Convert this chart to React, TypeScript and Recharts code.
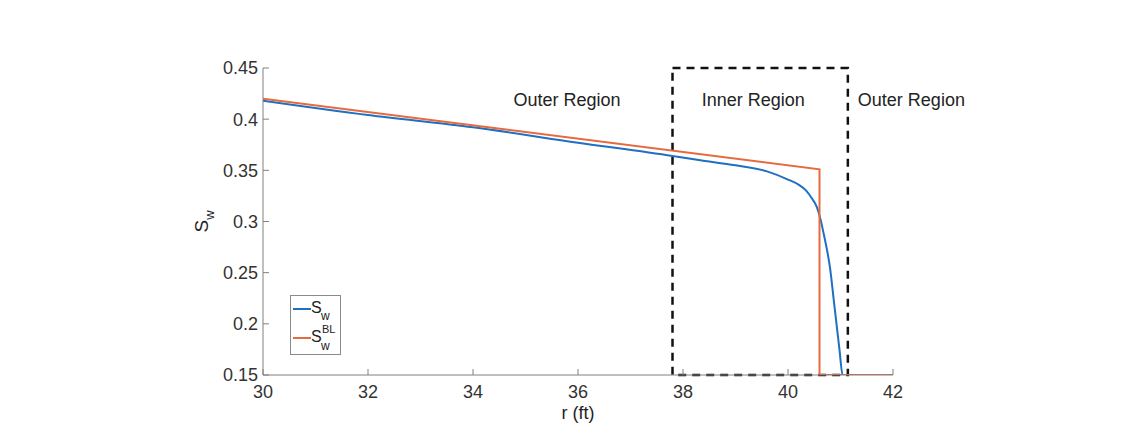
import React from "react";
import {
  LineChart,
  Line,
  XAxis,
  YAxis,
  ReferenceArea,
  ReferenceDot,
  Legend,
} from "recharts";

// S_w profile
const swR = [30, 32, 34, 36, 37.8, 38.3, 39, 39.6, 40, 40.2, 40.35, 40.45, 40.55, 40.62, 40.68, 40.74, 40.8, 40.87, 40.98, 41.04, 42];
const swValues = [0.418, 0.404, 0.392, 0.377, 0.364, 0.36, 0.355, 0.349, 0.341, 0.336, 0.33, 0.323, 0.314, 0.302, 0.288, 0.273, 0.255, 0.224, 0.175, 0.15, 0.15];

// Buckley-Leverett solution (sharp front)
const blR = [30, 40.6, 40.6, 42];
const blValues = [0.42, 0.351, 0.15, 0.15];

const xTicks = [30, 32, 34, 36, 38, 40, 42];
const yTicks = [0.15, 0.2, 0.25, 0.3, 0.35, 0.4, 0.45];

// dashed box around the inner region
const innerRegion = [37.8, 41.14];

const regionLabels = [
  { r: 35.79, sw: 0.419, text: "Outer Region" },
  { r: 39.34, sw: 0.419, text: "Inner Region" },
  { r: 42.35, sw: 0.419, text: "Outer Region" },
];

const swData = swR.map((r, i) => ({ r, sw: swValues[i] }));
const blData = blR.map((r, i) => ({ r, bl: blValues[i] }));

const FONT = '"Liberation Sans", Arial, Helvetica, sans-serif';
const BLUE = "#1f6fc2";
const ORANGE = "#e66a3e";
const AXIS = "#808080";

function YLabel(props: any) {
  const vb = props.viewBox;
  const cx = vb.x + vb.width - 55;
  const cy = vb.y + vb.height / 2;
  return (
    <text x={cx} y={cy} transform={`rotate(-90, ${cx}, ${cy})`} fontSize={19} fill="#222" textAnchor="middle">
      S<tspan dy={6} fontSize={13}>w</tspan>
    </text>
  );
}

function XLabel(props: any) {
  const vb = props.viewBox;
  return (
    <text x={vb.x + vb.width / 2} y={vb.y + 44} fontSize={18} fill="#222" textAnchor="middle">
      r (ft)
    </text>
  );
}

function LegendBox() {
  return (
    <svg width={51} height={60} style={{ display: "block", fontFamily: FONT }}>
      <rect x={0.5} y={0.5} width={50} height={59} fill="#fff" stroke="#8a8a8a" />
      <line x1={3} x2={21} y1={14} y2={14} stroke={BLUE} strokeWidth={2} />
      <text x={21} y={18} fontSize={16} fill="#222">S</text>
      <text x={31} y={25} fontSize={12} fill="#222">w</text>
      <line x1={3} x2={21} y1={43} y2={43} stroke={ORANGE} strokeWidth={2} />
      <text x={21} y={47} fontSize={16} fill="#222">S</text>
      <text x={32} y={38} fontSize={11} fill="#222">BL</text>
      <text x={31} y={55} fontSize={12} fill="#222">w</text>
    </svg>
  );
}

export default function App() {
  return (
    <div style={{ position: "absolute", left: 0, top: 0, width: 1143, height: 426, background: "#fff", fontFamily: FONT }}>
      <LineChart width={1000} height={426} margin={{ top: 68, right: 107, bottom: 0, left: 0 }} style={{ fontFamily: FONT }}>
        <XAxis
          dataKey="r"
          type="number"
          domain={[30, 42]}
          ticks={xTicks}
          allowDataOverflow
          height={51}
          stroke={AXIS}
          tickSize={-6}
          tickMargin={16}
          tick={{ fill: "#333", fontSize: 18 }}
          label={{ content: XLabel }}
        />
        <YAxis
          type="number"
          domain={[0.15, 0.45]}
          ticks={yTicks}
          allowDataOverflow
          width={263}
          stroke={AXIS}
          tickSize={-6}
          tickMargin={11}
          tick={{ fill: "#333", fontSize: 18 }}
          tickFormatter={(v: number) => String(v)}
          label={{ content: YLabel }}
        />
        <Legend
          layout="vertical"
          align="center"
          verticalAlign="middle"
          wrapperStyle={{ left: 290, top: 295, width: 51, height: 60 }}
          content={() => <LegendBox />}
        />
        <Line data={swData} dataKey="sw" name="S_w" type="monotoneX" stroke={BLUE} strokeWidth={2} dot={false} isAnimationActive={false} />
        <Line data={blData} dataKey="bl" name="S_w^BL" type="linear" stroke={ORANGE} strokeWidth={2} dot={false} isAnimationActive={false} />
        <ReferenceArea
          x1={innerRegion[0]}
          x2={innerRegion[1]}
          y1={0.15}
          y2={0.45}
          fill="none"
          fillOpacity={0}
          stroke="#111"
          strokeWidth={2.5}
          strokeDasharray="8 6"
          ifOverflow="visible"
        />
        {regionLabels.map((l, i) => (
          <ReferenceDot
            key={i}
            x={l.r}
            y={l.sw}
            r={0}
            fill="none"
            stroke="none"
            ifOverflow="visible"
            label={{ value: l.text, position: "center", fill: "#222", fontSize: 18 }}
          />
        ))}
      </LineChart>
    </div>
  );
}
